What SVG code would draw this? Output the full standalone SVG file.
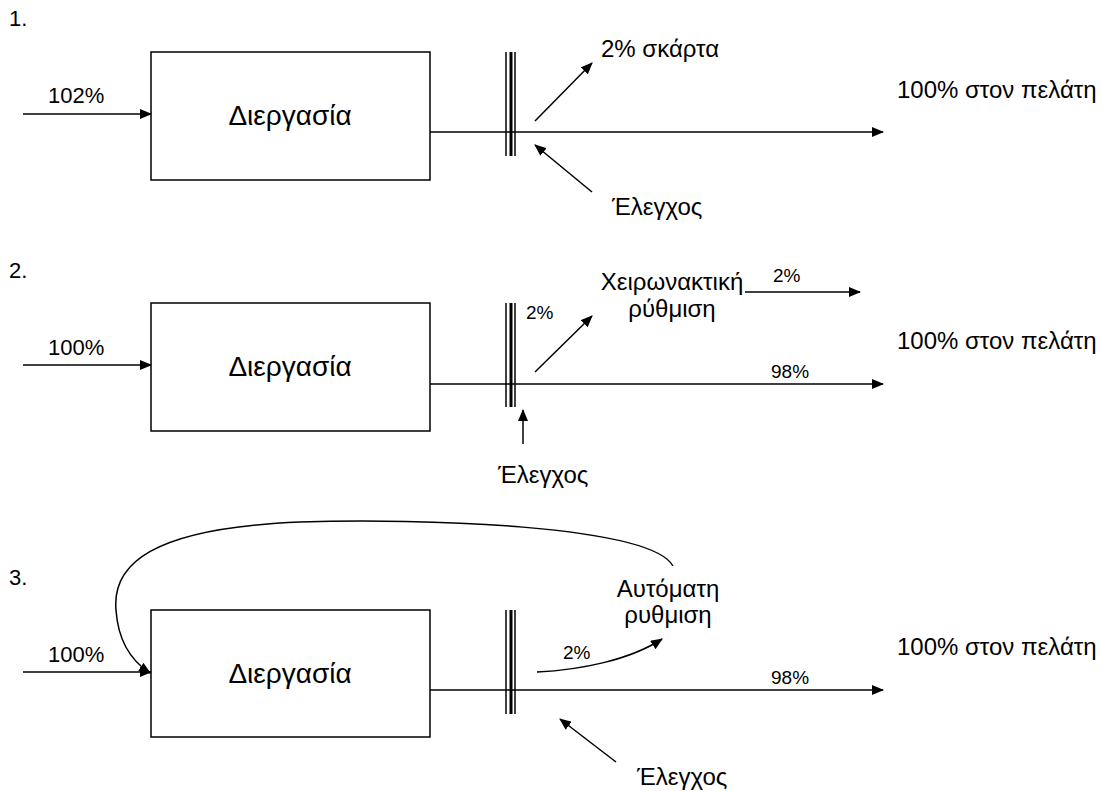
<svg xmlns="http://www.w3.org/2000/svg" width="1102" height="791" viewBox="0 0 1102 791">
<defs>
<marker id="ah" markerWidth="12" markerHeight="10" refX="11" refY="5" orient="auto" markerUnits="userSpaceOnUse">
<path d="M0,0 L12,5 L0,10 z" fill="#000"/>
</marker>
<style>
text{font-family:"Liberation Sans",Arial,sans-serif;fill:#000}
.lbl{font-size:24px}
.num{font-size:22px}
.ttl{font-size:28px}
.sm{font-size:19px}
.box{fill:#fff;stroke:#000;stroke-width:1.5}
.arr{fill:none;stroke:#000;stroke-width:1.5;marker-end:url(#ah)}
.thk{stroke:#000;stroke-width:3}
.thn{stroke:#000;stroke-width:1.5}
</style>
</defs>
<rect width="1102" height="791" fill="#fff"/>

<!-- Diagram 1 -->
<g id="d1">
<text x="9" y="26" class="num">1.</text>
<g id="n1-process"><rect x="151" y="52" width="279" height="128" class="box"/><text x="290" y="125" class="ttl" text-anchor="middle">Διεργασία</text></g>
<g id="n1-in-label"><text x="48" y="103" class="num">102%</text></g>
<g id="n1-gate"><line x1="506" y1="52" x2="506" y2="156" class="thn"/><line x1="511" y1="52" x2="511" y2="156" class="thk"/><line x1="515" y1="52" x2="515" y2="156" class="thn"/></g>
<g id="n1-scrap"><text x="601" y="57" class="lbl">2% σκάρτα</text></g>
<g id="n1-check"><text x="612" y="215" class="lbl">Έλεγχος</text></g>
<g id="n1-customer"><text x="897" y="98" class="lbl">100% στον πελάτη</text></g>
<g id="c1">
<line x1="23" y1="114" x2="151" y2="114" class="arr"/>
<line x1="430" y1="132" x2="883" y2="132" class="arr"/>
<line x1="535" y1="121" x2="592" y2="63" class="arr"/>
<line x1="592" y1="192" x2="535" y2="145" class="arr"/>
</g>
</g>

<!-- Diagram 2 -->
<g id="d2">
<text x="9" y="278" class="num">2.</text>
<g id="n2-process"><rect x="151" y="303" width="279" height="128" class="box"/><text x="290" y="376" class="ttl" text-anchor="middle">Διεργασία</text></g>
<g id="n2-in-label"><text x="48" y="355" class="num">100%</text></g>
<g id="n2-gate"><line x1="506" y1="303" x2="506" y2="407" class="thn"/><line x1="511" y1="303" x2="511" y2="407" class="thk"/><line x1="515" y1="303" x2="515" y2="407" class="thn"/></g>
<g id="n2-2pct"><text x="526" y="319" class="sm">2%</text></g>
<g id="n2-manual"><text x="672" y="290" class="lbl" text-anchor="middle">Χειρωνακτική</text><text x="672" y="317" class="lbl" text-anchor="middle">ρύθμιση</text></g>
<g id="n2-out2"><text x="773" y="282" class="sm">2%</text></g>
<g id="n2-98"><text x="771" y="378" class="sm">98%</text></g>
<g id="n2-check"><text x="498" y="483" class="lbl">Έλεγχος</text></g>
<g id="n2-customer"><text x="897" y="349" class="lbl">100% στον πελάτη</text></g>
<g id="c2">
<line x1="23" y1="365" x2="151" y2="365" class="arr"/>
<line x1="430" y1="384" x2="883" y2="384" class="arr"/>
<line x1="535" y1="372" x2="592" y2="316" class="arr"/>
<line x1="745" y1="292" x2="860" y2="292" class="arr"/>
<line x1="523" y1="444" x2="523" y2="410" class="arr"/>
</g>
</g>

<!-- Diagram 3 -->
<g id="d3">
<text x="9" y="585" class="num">3.</text>
<g id="n3-process"><rect x="151" y="610" width="279" height="127" class="box"/><text x="290" y="683" class="ttl" text-anchor="middle">Διεργασία</text></g>
<g id="n3-in-label"><text x="48" y="662" class="num">100%</text></g>
<g id="n3-gate"><line x1="506" y1="610" x2="506" y2="714" class="thn"/><line x1="511" y1="610" x2="511" y2="714" class="thk"/><line x1="515" y1="610" x2="515" y2="714" class="thn"/></g>
<g id="n3-2pct"><text x="563" y="659" class="sm">2%</text></g>
<g id="n3-auto"><text x="668" y="597" class="lbl" text-anchor="middle">Αυτόματη</text><text x="668" y="623" class="lbl" text-anchor="middle">ρυθμιση</text></g>
<g id="n3-98"><text x="771" y="684" class="sm">98%</text></g>
<g id="n3-check"><text x="637" y="785" class="lbl">Έλεγχος</text></g>
<g id="n3-customer"><text x="897" y="655" class="lbl">100% στον πελάτη</text></g>
<g id="c3">
<line x1="23" y1="672" x2="151" y2="672" class="arr"/>
<line x1="430" y1="690" x2="883" y2="690" class="arr"/>
<path d="M537,672 C580,670 630,660 662,639" class="arr"/>
<path d="M673,566 C650,525 420,518 300,522 C150,528 112,565 116,610 C118,640 130,660 150,673" class="arr"/>
<line x1="616" y1="762" x2="560" y2="719" class="arr"/>
</g>
</g>
</svg>
